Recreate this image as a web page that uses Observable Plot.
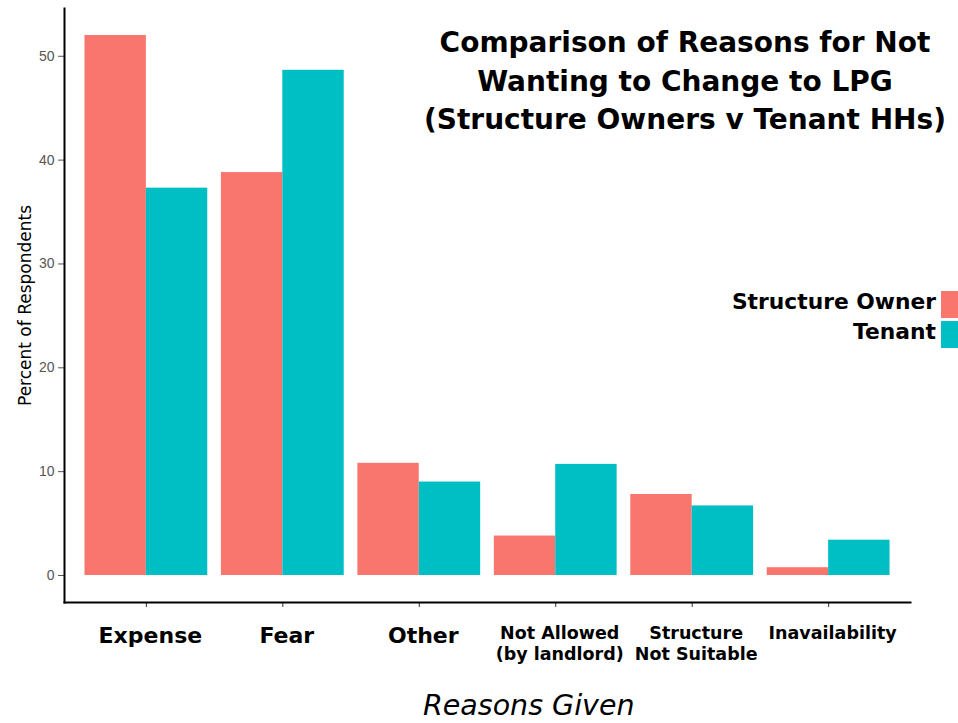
<!DOCTYPE html>
<html>
<head>
<meta charset="utf-8">
<script src="https://cdn.jsdelivr.net/npm/d3@7"></script>
<script src="https://cdn.jsdelivr.net/npm/@observablehq/plot@0.6"></script>
<style>
  body { margin: 0; background: white; }
  #wrap { position: relative; width: 958px; height: 723px; overflow: hidden; background: white; }
  #chart { position: absolute; left: 0; top: 0; }
  #title { position: absolute; left: 410px; width: 550px; top: 24px; text-align: center;
           font: bold 28px/38.5px "DejaVu Sans"; color: #000; }
  #legend { position: absolute; right: 22px; top: 287px; text-align: right;
            font: bold 21.8px/30px "DejaVu Sans"; color: #000; }
  .key { position: absolute; left: 941px; width: 20px; height: 27px; }
  #xtitle { position: absolute; left: 423px; top: 690px; font: italic 28.5px/32px "DejaVu Sans"; color: #000; }
</style>
</head>
<body>
<div id="wrap">
  <div id="chart"></div>
  <div id="title"></div>
  <div id="legend"></div>
  <div id="xtitle"></div>
</div>
<script>
// ---- data ----
const categories = ["Expense", "Fear", "Other", "Not Allowed", "Structure Not Suitable", "Inavailability"];
const tickLabels = ["Expense", "Fear", "Other", "Not Allowed\n(by landlord)", "Structure\nNot Suitable", "Inavailability"];
const groups = ["Structure Owner", "Tenant"];
const ownerValues = [52.0, 38.8, 10.8, 3.8, 7.8, 0.75];
const tenantValues = [37.3, 48.65, 9.0, 10.7, 6.7, 3.4];
const yTicks = [0, 10, 20, 30, 40, 50];
const titleLines = ["Comparison of Reasons for Not", "Wanting to Change to LPG", "(Structure Owners v Tenant HHs)"];
const yLabel = "Percent of Respondents";
const xLabel = "Reasons Given";
const colors = ["#F8766D", "#00BFC4"];

const data = categories.flatMap((c, i) => [
  {category: c, group: groups[0], value: ownerValues[i]},
  {category: c, group: groups[1], value: tenantValues[i]}
]);

// layout
const W = 958, H = 723, mL = 64, mR = 48, mT = 8, mB = 121;
const pIn = 0.1, pOut = 0.15;
const step = (W - mL - mR) / (categories.length - pIn + 2 * pOut);
const half = step * (1 - pIn) / 2;
const yMax = d3.max([...ownerValues, ...tenantValues]);
const yDomain = [-0.05 * yMax, yMax * 1.05];

const plot = Plot.plot({
  width: W, height: H,
  marginLeft: mL, marginRight: mR, marginTop: mT, marginBottom: mB,
  x: {domain: categories, paddingInner: pIn, paddingOuter: pOut, round: false, axis: null},
  y: {domain: yDomain, axis: null},
  color: {domain: groups, range: colors},
  style: {fontFamily: "DejaVu Sans", background: "white", overflow: "visible"},
  marks: [
    Plot.barY(data.filter(d => d.group === groups[0]), {x: "category", y: "value", fill: "group", insetRight: half}),
    Plot.barY(data.filter(d => d.group === groups[1]), {x: "category", y: "value", fill: "group", insetLeft: half}),
    Plot.axisY({ticks: yTicks, tickSize: 6, tickPadding: 4, fontSize: 14, fontFamily: "Liberation Sans", color: "#555", label: null}),
    Plot.axisX({tickSize: 5, tickFormat: () => "", label: null, color: "#333"}),
    Plot.text(categories, {
      x: d => d,
      text: (d, i) => tickLabels[i],
      frameAnchor: "bottom", lineAnchor: "top", dy: 22, dx: 4,
      fontSize: (d, i) => tickLabels[i].length <= 7 ? 22 : 17.5,
      fontWeight: "bold", lineHeight: 1.2, fill: "#000", fontFamily: "DejaVu Sans"
    }),
    Plot.text([yLabel], {frameAnchor: "left", textAnchor: "middle", rotate: -90, dx: -39, fontSize: 17, fill: "#000", fontFamily: "DejaVu Sans"}),
    Plot.frame({anchor: "left", stroke: "#000", strokeWidth: 2}),
    Plot.frame({anchor: "bottom", stroke: "#000", strokeWidth: 2})
  ]
});
document.getElementById("chart").appendChild(plot);

document.getElementById("title").innerHTML = titleLines.join("<br>");
document.getElementById("xtitle").textContent = xLabel;
const legend = document.getElementById("legend");
legend.innerHTML = groups.join("<br>");
groups.forEach((g, i) => {
  const k = document.createElement("div");
  k.className = "key";
  k.style.top = (291 + i * 30) + "px";
  k.style.background = colors[i];
  document.getElementById("wrap").appendChild(k);
});
</script>
</body>
</html>
